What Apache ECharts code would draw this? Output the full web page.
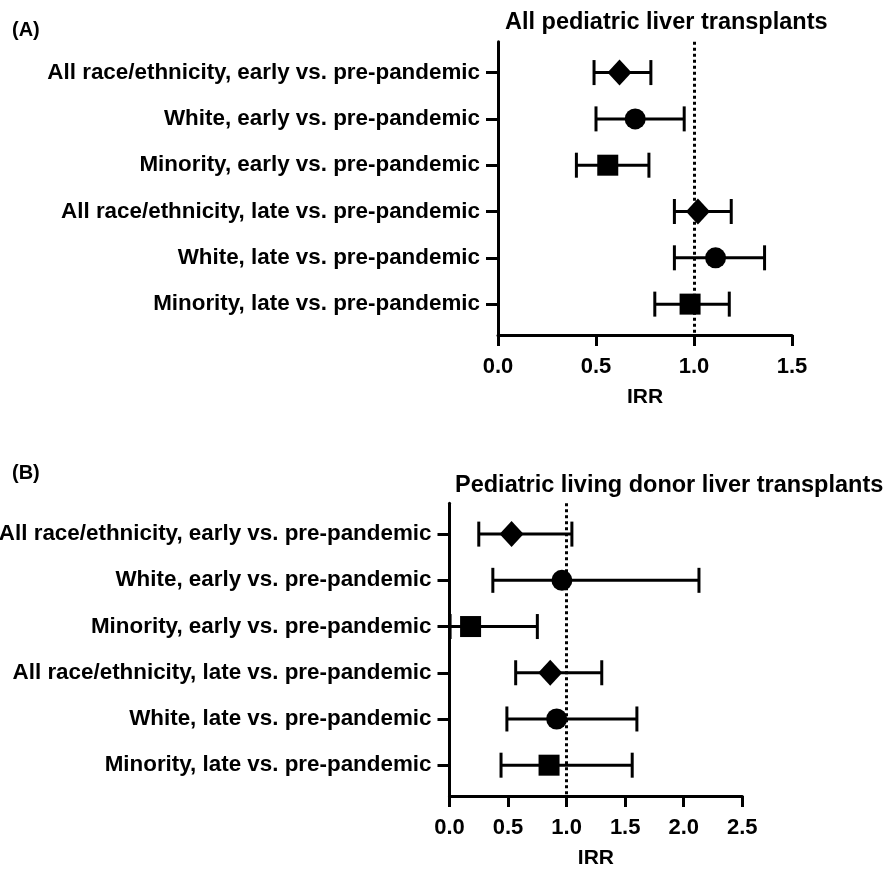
<!DOCTYPE html>
<html>
<head>
<meta charset="utf-8">
<script src="https://cdn.jsdelivr.net/npm/echarts@6/dist/echarts.min.js"></script>
<style>
  html, body { margin: 0; background: #fff; }
  #chart { width: 887px; height: 869px; }
</style>
</head>
<body>
<div id="chart"></div>
<script>
const rowLabels = [
  'All race/ethnicity, early vs. pre-pandemic',
  'White, early vs. pre-pandemic',
  'Minority, early vs. pre-pandemic',
  'All race/ethnicity, late vs. pre-pandemic',
  'White, late vs. pre-pandemic',
  'Minority, late vs. pre-pandemic'
]
const rowPositions = [1, 2, 3, 4, 5, 6]
const markerShapes = ['diamond', 'circle', 'rect', 'diamond', 'circle', 'rect']

// (A) all pediatric liver transplants
const allIrr = [0.62, 0.70, 0.56, 1.02, 1.11, 0.98]
const allLower = [0.49, 0.50, 0.40, 0.90, 0.90, 0.80]
const allUpper = [0.78, 0.95, 0.77, 1.19, 1.36, 1.18]

// (B) pediatric living donor liver transplants
const livingIrr = [0.53, 0.96, 0.18, 0.86, 0.915, 0.85]
const livingLower = [0.25, 0.37, 0.005, 0.565, 0.49, 0.44]
const livingUpper = [1.045, 2.13, 0.75, 1.30, 1.60, 1.56]

const font = 'Liberation Sans, Arial, sans-serif'
const black = '#000'

const chart = echarts.init(document.getElementById('chart'))

function renderErrorBar(params, api) {
  const y = api.value(2)
  const lo = api.coord([api.value(0), y])
  const hi = api.coord([api.value(1), y])
  const cap = 12.5
  const style = { stroke: black, lineWidth: 3 }
  return {
    type: 'group',
    children: [
      { type: 'line', shape: { x1: lo[0], y1: lo[1], x2: hi[0], y2: hi[1] }, style },
      { type: 'line', shape: { x1: lo[0], y1: lo[1] - cap, x2: lo[0], y2: lo[1] + cap }, style },
      { type: 'line', shape: { x1: hi[0], y1: hi[1] - cap, x2: hi[0], y2: hi[1] + cap }, style }
    ]
  }
}

function rowAxis(gridIndex) {
  return {
    type: 'value',
    gridIndex,
    min: 1 / 3,
    max: 20 / 3,
    inverse: true,
    axisLine: { show: true, lineStyle: { color: black, width: 3 } },
    axisTick: { show: true, length: 12, customValues: rowPositions, lineStyle: { color: black, width: 3 } },
    axisLabel: {
      customValues: rowPositions,
      formatter: v => rowLabels[Math.round(v) - 1],
      margin: 18,
      color: black,
      fontFamily: font,
      fontWeight: 'bold',
      fontSize: 22.4
    },
    splitLine: { show: false }
  }
}

function irrAxis(gridIndex, max) {
  return {
    type: 'value',
    gridIndex,
    min: 0,
    max,
    interval: 0.5,
    name: 'IRR',
    nameLocation: 'middle',
    nameGap: 52,
    nameTextStyle: { color: black, fontFamily: font, fontWeight: 'bold', fontSize: 21 },
    axisLine: { show: true, onZero: false, lineStyle: { color: black, width: 3 } },
    axisTick: { show: true, length: 11, lineStyle: { color: black, width: 3 } },
    axisLabel: {
      formatter: v => v.toFixed(1),
      margin: 21,
      color: black,
      fontFamily: font,
      fontWeight: 'bold',
      fontSize: 22
    },
    splitLine: { show: false }
  }
}

function markerSize(shape) {
  if (shape === 'diamond') return [24, 26]
  if (shape === 'rect') return 21
  return 21
}

function panelSeries(index, irr, lower, upper) {
  return [
    {
      type: 'custom',
      xAxisIndex: index,
      yAxisIndex: index,
      renderItem: renderErrorBar,
      encode: { x: [0, 1], y: 2 },
      data: rowPositions.map((r, i) => [lower[i], upper[i], r]),
      clip: false,
      z: 3
    },
    {
      type: 'scatter',
      xAxisIndex: index,
      yAxisIndex: index,
      itemStyle: { color: black, opacity: 1 },
      data: rowPositions.map((r, i) => ({
        value: [irr[i], r],
        symbol: markerShapes[i],
        symbolSize: markerSize(markerShapes[i])
      })),
      markLine: {
        silent: true,
        symbol: 'none',
        label: { show: false },
        lineStyle: { color: black, width: 3, type: [3, 3] },
        data: [{ xAxis: 1 }]
      },
      z: 4
    }
  ]
}

const titleStyle = { color: black, fontFamily: font, fontWeight: 'bold', fontSize: 23.5 }
const panelTagStyle = { color: black, fontFamily: font, fontWeight: 'bold', fontSize: 20 }

chart.setOption({
  animation: false,
  backgroundColor: '#fff',
  title: [
    { text: '(A)', left: 7, top: 15, textStyle: panelTagStyle },
    { text: 'All pediatric liver transplants', left: 500, top: 6, textStyle: titleStyle },
    { text: '(B)', left: 7, top: 458, textStyle: panelTagStyle },
    { text: 'Pediatric living donor liver transplants', left: 450, top: 469, textStyle: titleStyle }
  ],
  grid: [
    { left: 498, top: 41.7, width: 294, height: 293.3, outerBoundsMode: 'none' },
    { left: 449.5, top: 503.3, width: 292.8, height: 292.7, outerBoundsMode: 'none' }
  ],
  xAxis: [irrAxis(0, 1.5), irrAxis(1, 2.5)],
  yAxis: [rowAxis(0), rowAxis(1)],
  series: [
    ...panelSeries(0, allIrr, allLower, allUpper),
    ...panelSeries(1, livingIrr, livingLower, livingUpper)
  ]
})
</script>
</body>
</html>
